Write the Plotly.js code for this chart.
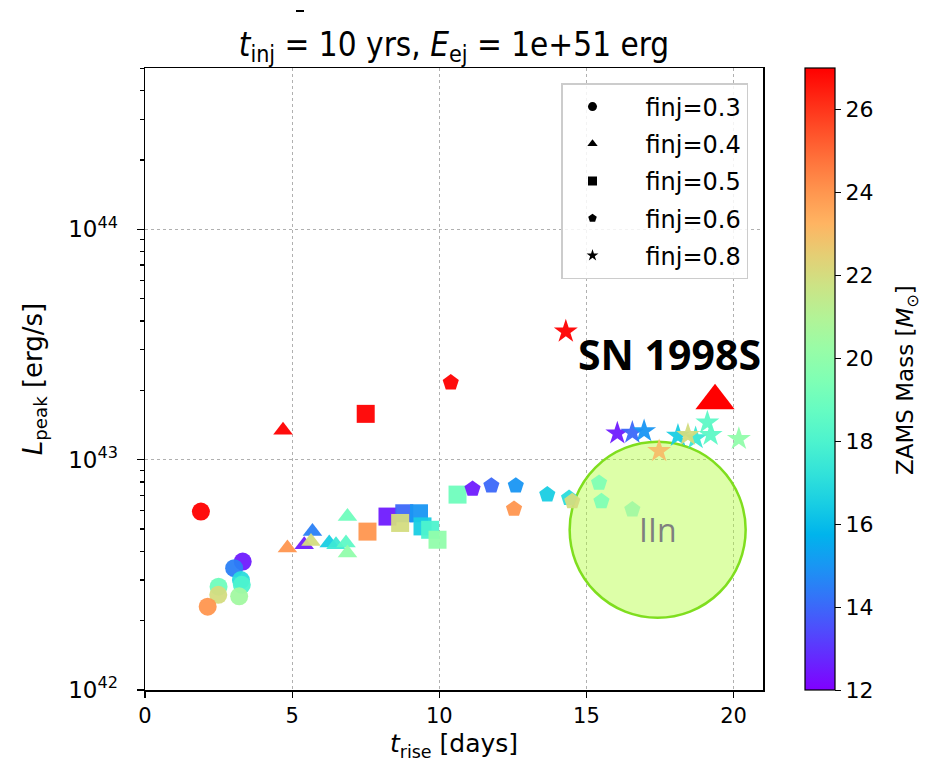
<!DOCTYPE html>
<html>
<head>
<meta charset="utf-8">
<script src="https://cdn.plot.ly/plotly-3.0.1.min.js"></script>
<style>html,body{margin:0;padding:0;background:#fff;}#chart{width:940px;height:772px;}</style>
</head>
<body>
<div id="chart"></div>
<script>
// finj = 0.3 (circles)
const circT = [1.90, 3.32, 3.03, 3.26, 3.29, 2.50, 2.49, 3.20, 2.13];
const circL = [5.95e42, 3.61e42, 3.38e42, 3.00e42, 2.86e42, 2.81e42, 2.59e42, 2.55e42, 2.30e42];
const circM = [27, 12.5, 14.5, 17, 18, 19, 22, 20.5, 24];
// finj = 0.4 (triangles)
const triT = [4.69, 4.84, 5.41, 5.69, 5.64, 6.26, 6.49, 6.83, 6.88, 6.88];
const triL = [1.34e43, 4.13e42, 4.27e42, 4.87e42, 4.41e42, 4.35e42, 4.27e42, 4.35e42, 3.93e42, 5.66e42];
const triM = [27, 24, 12.5, 14.5, 22, 16.5, 17.5, 18.5, 20, 19];
// finj = 0.5 (squares)
const sqT = [7.50, 7.56, 8.24, 8.81, 9.31, 8.67, 9.43, 9.69, 9.94, 10.62];
const sqL = [1.58e43, 4.87e42, 5.66e42, 5.85e42, 5.85e42, 5.31e42, 5.13e42, 4.96e42, 4.49e42, 7.05e42];
const sqM = [27, 24, 12.5, 14, 15, 22, 16.5, 18, 20, 19];
// finj = 0.6 (pentagons)
const penT = [10.39, 11.13, 11.77, 12.60, 12.54, 13.67, 14.41, 14.52, 15.43, 15.51, 16.56];
const penL = [2.16e43, 7.46e42, 7.71e42, 7.71e42, 6.11e42, 7.05e42, 6.81e42, 6.59e42, 7.92e42, 6.59e42, 6.07e42];
const penM = [27, 12.5, 14, 15, 24, 16.5, 17, 22, 19.5, 19.5, 20.5];
// finj = 0.8 (stars)
const starT = [14.30, 16.05, 16.56, 16.96, 17.47, 18.11, 18.45, 18.71, 19.11, 19.22, 20.18];
const starL = [3.6e43, 1.30e43, 1.31e43, 1.33e43, 1.09e43, 1.27e43, 1.28e43, 1.24e43, 1.45e43, 1.28e43, 1.23e43];
const starM = [27, 12.5, 14, 15, 23, 16.5, 22, 17.5, 18.5, 18.5, 20];
// observed SN 1998S and IIn region
const snT = [19.37];
const snL = [1.80e43];
const iinT = [17.42];
const iinL = [4.96e42];

const finjLabels = ['finj=0.3', 'finj=0.4', 'finj=0.5', 'finj=0.6', 'finj=0.8'];
const symbols = ['circle', 'triangle-up', 'square', 'pentagon', 'star'];
const sizes = [18, 17, 18, 17, 18];
const massTicks = [12, 14, 16, 18, 20, 22, 24, 26];

// matplotlib "rainbow" colormap
const rainbow = [];
for (let i = 0; i <= 20; i++) {
  const f = i / 20;
  const r = Math.min(1, Math.abs(2 * f - 0.5));
  const g = Math.sin(Math.PI * f);
  const b = Math.cos(Math.PI * f / 2);
  rainbow.push([f, `rgb(${Math.round(r*255)},${Math.round(g*255)},${Math.round(Math.max(0,b)*255)})`]);
}

function sortedByMass(t, L, M) {
  const idx = M.map((m, i) => i).sort((a, b) => M[a] - M[b]);
  return [idx.map(i => t[i]), idx.map(i => L[i]), idx.map(i => M[i])];
}

const groups = [[circT, circL, circM], [triT, triL, triM], [sqT, sqL, sqM], [penT, penL, penM], [starT, starL, starM]];

const traces = [];
// IIn region
traces.push({
  x: iinT, y: iinL, type: 'scatter', mode: 'markers', showlegend: false, hoverinfo: 'skip',
  marker: {symbol: 'circle', size: 176, color: 'rgba(173,255,47,0.42)', line: {color: 'rgb(127,222,30)', width: 2.5}}
});
groups.forEach((g, k) => {
  const [t, L, M] = sortedByMass(g[0], g[1], g[2]);
  traces.push({
    x: t, y: L, type: 'scatter', mode: 'markers', showlegend: false,
    marker: {symbol: symbols[k], size: sizes[k], color: M, coloraxis: 'coloraxis', opacity: 0.95, line: {width: 0}}
  });
});
// legend entries (black markers)
const pad = '\u00a0\u00a0\u00a0';
finjLabels.forEach((lab, k) => {
  traces.push({
    x: [null], y: [null], type: 'scatter', mode: 'markers', name: pad + lab, legendgroup: 'g' + k,
    marker: {symbol: symbols[k], size: 9, color: 'black'}
  });
});
// SN 1998S
traces.push({
  x: snT, y: snL, type: 'scatter', mode: 'markers', showlegend: false,
  marker: {symbol: 'triangle-up', size: 34, color: 'red', line: {width: 0}}
});

const minorY = [];
for (let d = 42; d <= 44; d++) for (let m = 2; m <= 9; m++) minorY.push(m * Math.pow(10, d));

const font = 'DejaVu Sans, sans-serif';
const layout = {
  width: 940, height: 772,
  margin: {l: 145, r: 177, t: 68, b: 82},
  paper_bgcolor: 'white', plot_bgcolor: 'white',
  font: {family: font, color: 'black'},
  title: {
    text: '<i>t</i><sub>inj</sub> = 10 yrs, <i>E</i><sub>ej</sub> = 1e+51 erg',
    font: {family: 'DejaVu Sans Condensed, DejaVu Sans, sans-serif', size: 33, color: 'black'},
    x: 0.5, xref: 'paper', xanchor: 'center', y: 1 - 44 / 772, yref: 'container', yanchor: 'middle'
  },
  xaxis: {
    range: [0, 21], tickvals: [0, 5, 10, 15, 20], ticks: 'outside', ticklen: 6, tickwidth: 1.2, tickcolor: 'black',
    showline: true, mirror: true, linecolor: 'black', linewidth: 1.5, zeroline: false,
    showgrid: true, gridcolor: '#b0b0b0', griddash: 'dot', gridwidth: 1.2,
    tickfont: {size: 21, family: font},
    title: {text: '<i>t</i><sub>rise</sub> [days]', font: {size: 25, family: font}, standoff: 8}
  },
  yaxis: {
    type: 'log', range: [42, 44.7], tickmode: 'array', tickvals: [1e42, 1e43, 1e44],
    ticktext: ['10<sup>42</sup>', '10<sup>43</sup>', '10<sup>44</sup>'],
    ticks: 'outside', ticklen: 7, tickwidth: 1.2, tickcolor: 'black', ticklabelstandoff: 14,
    minor: {tickmode: 'array', tickvals: minorY, ticks: 'outside', ticklen: 4, tickcolor: 'black', showgrid: false},
    showline: true, mirror: true, linecolor: 'black', linewidth: 1.5, zeroline: false,
    showgrid: true, gridcolor: '#b0b0b0', griddash: 'dot', gridwidth: 1.2,
    tickfont: {size: 23, family: font},
    title: {text: '<i>L</i><sub>peak</sub> [erg/s]', font: {size: 26, family: font}, standoff: 18}
  },
  coloraxis: {
    colorscale: rainbow, cmin: 12, cmax: 27,
    colorbar: {
      x: (805 - 145) / 618, xanchor: 'left', y: 0.5, yanchor: 'middle', len: 1, lenmode: 'fraction',
      thickness: 30, thicknessmode: 'pixels', xpad: 0, ypad: 0,
      outlinecolor: 'black', outlinewidth: 1.2,
      tickmode: 'array', tickvals: massTicks, ticks: 'outside', ticklen: 6, tickcolor: 'black',
      tickfont: {size: 22, family: font}
    }
  },
  legend: {
    x: (748 - 145) / 618, xanchor: 'right', y: (690 - 83) / 622, yanchor: 'top',
    bgcolor: 'rgba(255,255,255,0.85)', bordercolor: '#cccccc', borderwidth: 1.5,
    font: {size: 24, family: font}, traceorder: 'grouped', tracegroupgap: 3, itemwidth: 50
  },
  annotations: [
    {x: 17.83, y: 43.457, xref: 'x', yref: 'y', text: '<b>SN 1998S</b>', showarrow: false,
     font: {family: 'Noto Sans, sans-serif', size: 41, color: 'black'}, xanchor: 'center', yanchor: 'middle'},
    {x: 17.42, y: Math.log10(iinL[0]), xref: 'x', yref: 'y', text: 'IIn', showarrow: false,
     font: {family: 'Open Sans, sans-serif', size: 32, color: '#7f7f7f'}, xanchor: 'center', yanchor: 'middle'},
    {x: (907 - 145) / 618, y: (690 - 380) / 622, xref: 'paper', yref: 'paper', textangle: -90,
     text: 'ZAMS Mass [<i>M</i><sub>⊙</sub>]', showarrow: false,
     font: {family: font, size: 23, color: 'black'}, xanchor: 'center', yanchor: 'middle'}
  ],
  shapes: [{type: 'line', xref: 'paper', yref: 'paper',
    x0: (296 - 145) / 618, x1: (304 - 145) / 618, y0: (690 - 11) / 622, y1: (690 - 11) / 622,
    line: {color: 'black', width: 2}}],
  showlegend: true
};

Plotly.newPlot('chart', traces, layout, {displayModeBar: false, staticPlot: true});
</script>
</body>
</html>
